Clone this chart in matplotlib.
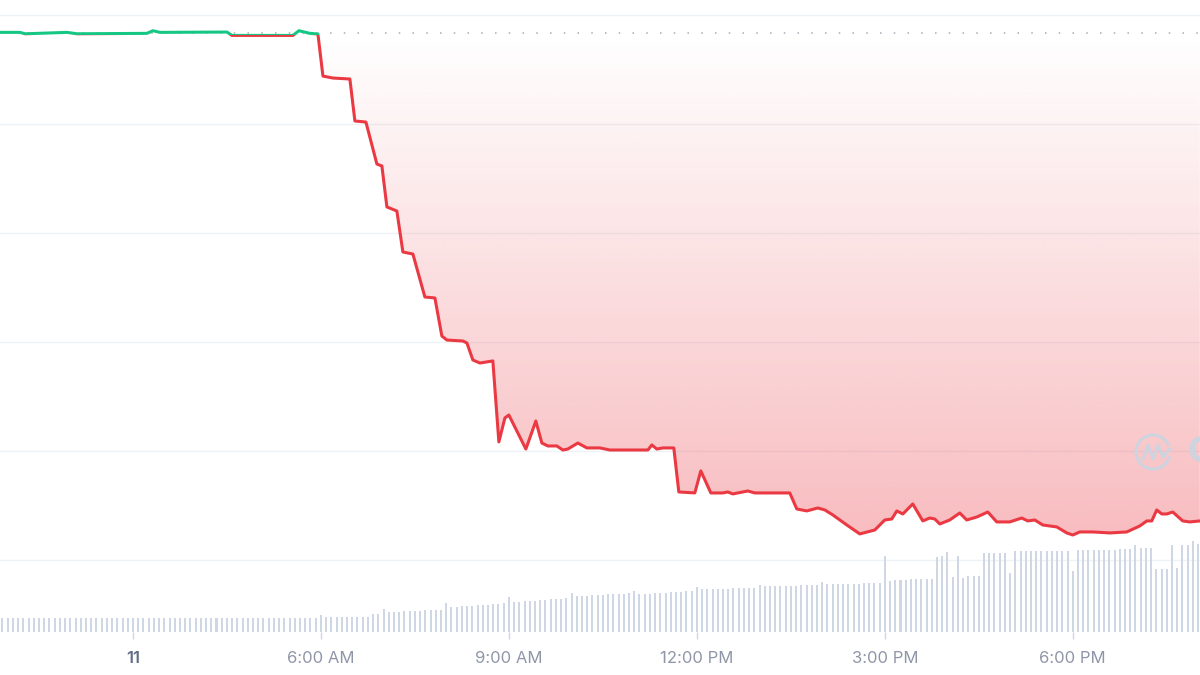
import numpy as np
import matplotlib.pyplot as plt
from matplotlib.patches import Rectangle, Arc, Polygon

# price line (time in hours of the day, price in USD)
hours = [0.878, 1.197, 1.277, 1.947, 2.106, 3.223, 3.319, 3.431, 4.500, 4.580, 5.553, 5.649, 5.824, 5.952,
         6.032, 6.191, 6.462, 6.542, 6.718, 6.893, 6.973, 7.053, 7.212, 7.308, 7.468, 7.659, 7.819, 7.930,
         8.010, 8.266, 8.330, 8.425, 8.537, 8.744,
         8.840, 8.936, 8.999, 9.271, 9.430, 9.526, 9.622, 9.765, 9.861, 9.941, 10.101, 10.244, 10.452,
         10.611, 10.978, 11.218, 11.281, 11.361, 11.457, 11.632,
         11.712, 11.967, 12.063, 12.223, 12.414, 12.494, 12.574, 12.813, 12.925, 13.483,
         13.595, 13.755, 13.930, 14.042, 14.170, 14.393, 14.600, 14.840, 14.999, 15.111, 15.191, 15.287,
         15.446, 15.606, 15.717, 15.797, 15.877, 16.036, 16.196, 16.307, 16.467, 16.643, 16.786, 16.994,
         17.185, 17.281, 17.393, 17.520, 17.744, 17.904, 18.000, 18.111, 18.319, 18.590, 18.861, 19.069,
         19.181, 19.260, 19.340, 19.420, 19.500, 19.595, 19.755, 19.867, 20.027]
price = [0.9841, 0.9841, 0.9828, 0.9841, 0.9828, 0.9832, 0.9856, 0.9841, 0.9844, 0.9813, 0.9813, 0.9856, 0.9832, 0.9826,
         0.9440, 0.9422, 0.9413, 0.9028, 0.9018, 0.8633, 0.8615, 0.8239, 0.8202, 0.7826, 0.7807, 0.7413, 0.7404, 0.7055,
         0.7018, 0.7009, 0.6991, 0.6835, 0.6807, 0.6826,
         0.6083, 0.6303, 0.6330, 0.6018, 0.6275, 0.6073, 0.6046, 0.6046, 0.6009, 0.6018, 0.6073, 0.6028, 0.6028,
         0.6009, 0.6009, 0.6009, 0.6055, 0.6018, 0.6028, 0.6028,
         0.5624, 0.5615, 0.5817, 0.5615, 0.5615, 0.5624, 0.5606, 0.5633, 0.5615, 0.5615,
         0.5468, 0.5450, 0.5477, 0.5459, 0.5413, 0.5321, 0.5239, 0.5275, 0.5367, 0.5376, 0.5450, 0.5422,
         0.5514, 0.5358, 0.5385, 0.5376, 0.5330, 0.5367, 0.5431, 0.5367, 0.5394, 0.5440, 0.5349, 0.5349,
         0.5385, 0.5358, 0.5367, 0.5321, 0.5303, 0.5248, 0.5229, 0.5257, 0.5257, 0.5248, 0.5257, 0.5312,
         0.5358, 0.5358, 0.5459, 0.5422, 0.5422, 0.5440, 0.5358, 0.5349, 0.5358]
open_price = 0.9832
color_split = 0.9813  # price where the line turns from green to red

# 5-minute volume bars (relative units), first bar at 0:55
vol_start = 11 / 12
volume = ([14] * 61 + [17] + [15.5] * 9 + [18, 18] + [23]
          + [20, 20, 20.5, 21, 21, 21, 21.5, 22, 22, 22, 22.5] + [29]
          + [25, 25.5, 26, 26, 26.5, 27, 27, 27.5, 28, 28.5, 29] + [35]
          + [30, 30.5, 31, 31, 31.5, 32, 32.5, 33, 33, 33.5, 34] + [39]
          + [36, 36, 36.5, 37, 37, 37.5, 38, 38, 38.5, 38.5, 39] + [41]
          + [38, 38.5, 38.5, 39, 39.5, 39.5, 40, 40, 40.5, 41, 41] + [45]
          + [43, 43, 43, 43.5, 43.5, 43.5, 44, 44, 44, 44.5, 44.5] + [47]
          + [45.7] * 7 + [46.7] * 4 + [50] + [47.7] * 7 + [49] * 4
          + [76] + [50.7] + [52] * 3 + [53] * 5 + [75, 76, 80, 55, 76, 54] + [56] * 3
          + [79] * 5 + [59] + [80.7] * 11 + [60.7] + [81.7] * 8 + [83.3] * 3 + [87.3]
          + [84] * 3 + [63.3] * 3 + [87, 64, 87, 87, 91, 88])

tick_hours = [3, 6, 9, 12, 15, 18]
tick_labels = ["11", "6:00 AM", "9:00 AM", "12:00 PM", "3:00 PM", "6:00 PM"]
grid_levels = [0.5, 0.6, 0.7, 0.8, 0.9, 1.0]

RED = "#ea3943"
GREEN = "#16c784"

plt.rcParams['font.family'] = ['Inter', 'DejaVu Sans']

fig = plt.figure(figsize=(12, 6.75), dpi=100)
ax = fig.add_axes([0, 0.0637, 1, 0.9363])
x0, x1 = 0.878, 20.03
y0, y1 = 0.4339, 1.0138

for s in ax.spines.values():
    s.set_visible(False)
ax.set_yticks(grid_levels)
ax.yaxis.grid(True, color="#eff2f5", lw=1)
ax.set_axisbelow(True)
ax.tick_params(axis="y", length=0, labelleft=False)
ax.set_xticks(tick_hours, tick_labels)
ax.tick_params(axis="x", length=5, width=1, color="#cfd6e4", pad=9, labelsize=12, labelcolor="#8f96a8")
first = ax.get_xticklabels()[0]
first.set_color("#616e85")
first.set_fontweight("semibold")

# dotted baseline at opening price
ax.axhline(open_price, color="#a8acb8", lw=1.1, ls=(0, (1, 8)), zorder=1)

# gradient fill between price and opening price
h = np.array(hours)
p = np.array(price)
below = np.minimum(p, open_price)
verts = np.column_stack([np.r_[h, h[::-1]], np.r_[below, np.full(len(h), open_price)]])
area = Polygon(verts, closed=True, facecolor="none", edgecolor="none", transform=ax.transData)
ax.add_patch(area)
alpha = np.linspace(0.34, 0.0, 256)
img = np.zeros((256, 2, 4))
img[..., 0] = 234 / 255
img[..., 1] = 57 / 255
img[..., 2] = 67 / 255
img[..., 3] = alpha[:, None]
im = ax.imshow(img, extent=[x0, x1, 0.5195, open_price], origin="lower", aspect="auto", zorder=2,
               interpolation="bilinear")
im.set_clip_path(area)

# line, green above the split, red below
up, = ax.plot(h, p, color=GREEN, lw=2.2, zorder=4, solid_joinstyle="round")
down, = ax.plot(h, p, color=RED, lw=2.2, zorder=4, solid_joinstyle="round")
up.set_clip_path(Rectangle((x0, color_split), x1 - x0, y1 - color_split, transform=ax.transData))
down.set_clip_path(Rectangle((x0, y0), x1 - x0, color_split - y0, transform=ax.transData))
ax.set_xlim(x0, x1)
ax.set_ylim(y0, y1)

# volume bars
ax2 = ax.twinx()
vh = vol_start + np.arange(len(volume)) / 12
ax2.bar(vh, volume, width=0.032, color="#cfd6e4", zorder=1)
ax2.set_ylim(0, 632)
ax2.set_xlim(x0, x1)
ax2.axis("off")

# watermark
tr = fig.dpi_scale_trans
ax.add_patch(Arc((11.53, 2.23), 0.34, 0.34, theta1=20, theta2=345, transform=tr, color="#cdd4e0",
                 lw=2.2, zorder=3))
ax.plot([11.43, 11.48, 11.53, 11.58, 11.63, 11.70], [2.16, 2.30, 2.16, 2.30, 2.18, 2.26],
        transform=tr, color="#cdd4e0", lw=2.2, zorder=3, solid_joinstyle="round")
fig.text(1187 / 1200, 1 - 452 / 675, "C", color="#cdd4e0", fontsize=26, va="center", ha="left",
         fontweight="bold")

fig.savefig("out.png", dpi=100)
